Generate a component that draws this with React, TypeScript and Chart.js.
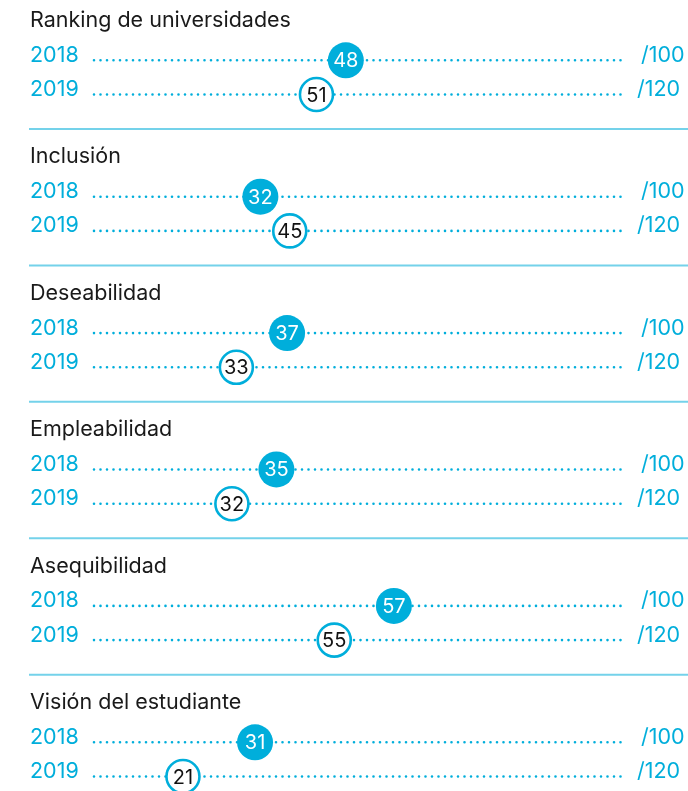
import React, { useEffect, useRef } from "react";
import { Chart, registerables } from "chart.js";

Chart.register(...registerables);

// ---- data ----
const categories = [
  "Ranking de universidades",
  "Inclusión",
  "Deseabilidad",
  "Empleabilidad",
  "Asequibilidad",
  "Visión del estudiante",
];
const seriesLabels = ["2018", "2019"];
const values2018 = [48, 32, 37, 35, 57, 31];
const values2019 = [51, 45, 33, 32, 55, 21];
const scaleMax = [100, 120];
const maxLabels = ["/100", "/120"];

// ---- layout / style ----
const W = 688;
const H = 791;
const CYAN = "#00aedb";
const SEP = "#74d2ea";
const FONT = "Inter, Roboto, 'Liberation Sans', sans-serif";
// y offsets within a group (1 unit = one group)
const OFF_ROW = [0.244, 0.495];
const OFF_SEP = 0.748;

const labelsPlugin = {
  id: "rowLabels",
  afterDraw(chart: any) {
    const ctx = chart.ctx;
    const y = chart.scales.y;
    ctx.save();
    categories.forEach((cat, g) => {
      // title
      ctx.font = `21.5px ${FONT}`;
      ctx.fillStyle = "#1a1a1a";
      ctx.textAlign = "left";
      ctx.textBaseline = "alphabetic";
      ctx.fillText(cat, 30, y.getPixelForValue(g));
      // year labels + max labels
      seriesLabels.forEach((s, r) => {
        const py = y.getPixelForValue(g + OFF_ROW[r]) + 1.5;
        ctx.fillStyle = CYAN;
        ctx.textAlign = "left";
        ctx.fillText(s, 30, py);
        ctx.fillText(maxLabels[r], r === 0 ? 641 : 637, py);
      });
      if (g < categories.length - 1) {
        const sy = y.getPixelForValue(g + OFF_SEP);
        ctx.strokeStyle = SEP;
        ctx.lineWidth = 2;
        ctx.beginPath();
        ctx.moveTo(29, sy);
        ctx.lineTo(W, sy);
        ctx.stroke();
      }
    });
    // values inside circles
    chart.data.datasets.forEach((ds: any, di: number) => {
      if (!ds.isPoints) return;
      const meta = chart.getDatasetMeta(di);
      meta.data.forEach((el: any, i: number) => {
        ctx.font = `20px ${FONT}`;
        ctx.fillStyle = ds.textColor;
        ctx.textAlign = "center";
        ctx.textBaseline = "middle";
        ctx.fillText(String(ds.data[i].x), el.x, el.y + 1);
      });
    });
    ctx.restore();
  },
};

function lineData(r: number) {
  const pts: any[] = [];
  categories.forEach((_, g) => {
    pts.push({ x: 0, y: g + OFF_ROW[r] });
    pts.push({ x: scaleMax[r], y: g + OFF_ROW[r] });
    pts.push({ x: null, y: null });
  });
  return pts;
}

const dotted = {
  type: "line",
  borderColor: CYAN,
  borderWidth: 2.6,
  borderDash: [0, 6.5],
  borderDashOffset: 2,
  borderCapStyle: "round",
  pointRadius: 0,
  spanGaps: false,
  order: 3,
  clip: false,
};

export default function App() {
  const ref = useRef<HTMLCanvasElement>(null);
  useEffect(() => {
    document.body.style.margin = "0";
    const chart = new Chart(ref.current!, {
      type: "scatter",
      data: {
        datasets: [
          { ...dotted, data: lineData(0), xAxisID: "x100" } as any,
          { ...dotted, data: lineData(1), xAxisID: "x120" } as any,
          {
            data: values2018.map((v, g) => ({ x: v, y: g + OFF_ROW[0] })),
            xAxisID: "x100",
            pointRadius: 18,
            backgroundColor: CYAN,
            borderColor: CYAN,
            borderWidth: 0,
            order: 1,
            clip: false,
            isPoints: true,
            textColor: "#ffffff",
          } as any,
          {
            data: values2019.map((v, g) => ({ x: v, y: g + OFF_ROW[1] })),
            xAxisID: "x120",
            pointRadius: 16.5,
            backgroundColor: "#ffffff",
            borderColor: CYAN,
            borderWidth: 2.6,
            order: 1,
            clip: false,
            isPoints: true,
            textColor: "#111111",
          } as any,
        ],
      },
      options: {
        responsive: false,
        animation: false,
        devicePixelRatio: 1,
        events: [],
        layout: {
          autoPadding: false,
          padding: { left: 89.5, right: W - 623.5, top: 0, bottom: 0 },
        },
        plugins: { legend: { display: false }, tooltip: { enabled: false } },
        scales: {
          x100: { type: "linear", min: 0, max: scaleMax[0], display: false },
          x120: { type: "linear", min: 0, max: scaleMax[1], display: false },
          y: {
            type: "linear",
            reverse: true,
            min: -27 / 136.4,
            max: -27 / 136.4 + H / 136.4,
            display: false,
          },
        },
      } as any,
      plugins: [labelsPlugin],
    });
    return () => chart.destroy();
  }, []);
  return (
    <div style={{ position: "absolute", left: 0, top: 0, width: W, height: H }}>
      <canvas ref={ref} width={W} height={H} style={{ width: W, height: H, display: "block" }} />
    </div>
  );
}
